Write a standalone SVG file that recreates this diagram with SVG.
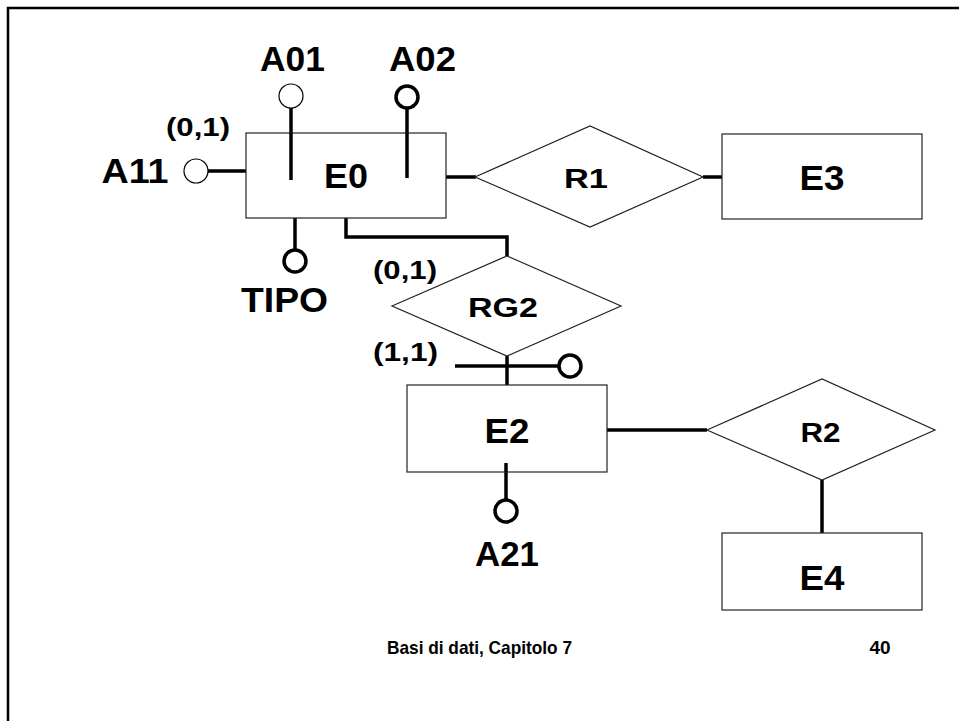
<svg xmlns="http://www.w3.org/2000/svg" width="959" height="721" viewBox="0 0 959 721">
<style>
.shape{fill:#fff;stroke:#222;stroke-width:1.2}
.conn{fill:none;stroke:#000;stroke-width:3.5}
.att{fill:#fff;stroke:#000;stroke-width:3.5}
.attl{fill:#fff;stroke:#000;stroke-width:1.2}
text{font-family:"Liberation Sans",Arial,sans-serif;font-weight:bold;fill:#000;text-anchor:middle}
.big{font-size:35px}
.rel{font-size:27px}
.card{font-size:25px}
.foot{font-size:19px}
</style>
<rect x="0" y="0" width="959" height="721" fill="#fff"/>
<path d="M8,721 V8 H959" fill="none" stroke="#000" stroke-width="2.5"/>
<g id="connectors">
<line class="conn" x1="208" y1="171" x2="246" y2="171"/>
<line class="conn" x1="291" y1="108" x2="291" y2="180"/>
<line class="conn" x1="407" y1="108" x2="407" y2="178"/>
<line class="conn" x1="295" y1="218" x2="295" y2="250"/>
<polyline class="conn" points="346,218 346,237 507,237 507,256"/>
<line class="conn" x1="446" y1="177" x2="476" y2="177"/>
<line class="conn" x1="703" y1="177" x2="722" y2="177"/>
<line class="conn" x1="507" y1="356" x2="507" y2="385"/>
<line class="conn" x1="455" y1="366" x2="559" y2="366"/>
<line class="conn" x1="506" y1="463" x2="506" y2="499"/>
<line class="conn" x1="607" y1="430" x2="707" y2="430"/>
<line class="conn" x1="822" y1="480" x2="822" y2="533"/>
</g>
<g id="E0">
<rect class="shape" x="246" y="133" width="200" height="85"/>
<line class="conn" x1="291" y1="133" x2="291" y2="180"/>
<line class="conn" x1="407" y1="133" x2="407" y2="178"/>
<text class="big" x="346" y="188" textLength="44" lengthAdjust="spacingAndGlyphs">E0</text>
</g>
<g id="A01">
<circle class="attl" cx="291" cy="96" r="12"/>
<text class="big" x="292.5" y="71" textLength="65" lengthAdjust="spacingAndGlyphs">A01</text>
</g>
<g id="A02">
<circle class="att" cx="407" cy="97" r="11"/>
<text class="big" x="422.5" y="71" textLength="67" lengthAdjust="spacingAndGlyphs">A02</text>
</g>
<g id="A11">
<circle class="attl" cx="196" cy="171" r="12"/>
<text class="big" x="135" y="183" textLength="67" lengthAdjust="spacingAndGlyphs">A11</text>
<text class="card" x="198" y="136" textLength="64" lengthAdjust="spacingAndGlyphs">(0,1)</text>
</g>
<g id="TIPO">
<circle class="att" cx="295" cy="261" r="11"/>
<text class="big" x="284.5" y="312" textLength="87" lengthAdjust="spacingAndGlyphs">TIPO</text>
</g>
<g id="R1">
<polygon class="shape" points="475,177 590,126 703,177 590,227"/>
<text class="rel" x="586" y="188" textLength="44" lengthAdjust="spacingAndGlyphs">R1</text>
</g>
<g id="E3">
<rect class="shape" x="722" y="134" width="200" height="85"/>
<text class="big" x="822" y="190" textLength="45" lengthAdjust="spacingAndGlyphs">E3</text>
</g>
<g id="RG2">
<polygon class="shape" points="392,306 507,256 621,306 507,356"/>
<text class="rel" x="503" y="317" textLength="70" lengthAdjust="spacingAndGlyphs">RG2</text>
<text class="card" x="405" y="279" textLength="64" lengthAdjust="spacingAndGlyphs">(0,1)</text>
<text class="card" x="405.5" y="361" textLength="65" lengthAdjust="spacingAndGlyphs">(1,1)</text>
</g>
<g id="E2">
<rect class="shape" x="407" y="385" width="200" height="87"/>
<line class="conn" x1="506" y1="463" x2="506" y2="472"/>
<text class="big" x="507" y="443" textLength="45" lengthAdjust="spacingAndGlyphs">E2</text>
</g>
<g id="E2_id">
<circle class="att" cx="570" cy="366" r="11"/>
</g>
<g id="A21">
<circle class="att" cx="506" cy="511" r="11"/>
<text class="big" x="507" y="566" textLength="64" lengthAdjust="spacingAndGlyphs">A21</text>
</g>
<g id="R2">
<polygon class="shape" points="707,430 822,379 935,430 822,480"/>
<text class="rel" x="820.5" y="442" textLength="40" lengthAdjust="spacingAndGlyphs">R2</text>
</g>
<g id="E4">
<rect class="shape" x="722" y="533" width="200" height="77"/>
<text class="big" x="822" y="590" textLength="45" lengthAdjust="spacingAndGlyphs">E4</text>
</g>
<g id="footer">
<text class="foot" x="479.5" y="654" textLength="185" lengthAdjust="spacingAndGlyphs">Basi di dati, Capitolo 7</text>
<text class="foot" x="880" y="654">40</text>
</g>
</svg>
